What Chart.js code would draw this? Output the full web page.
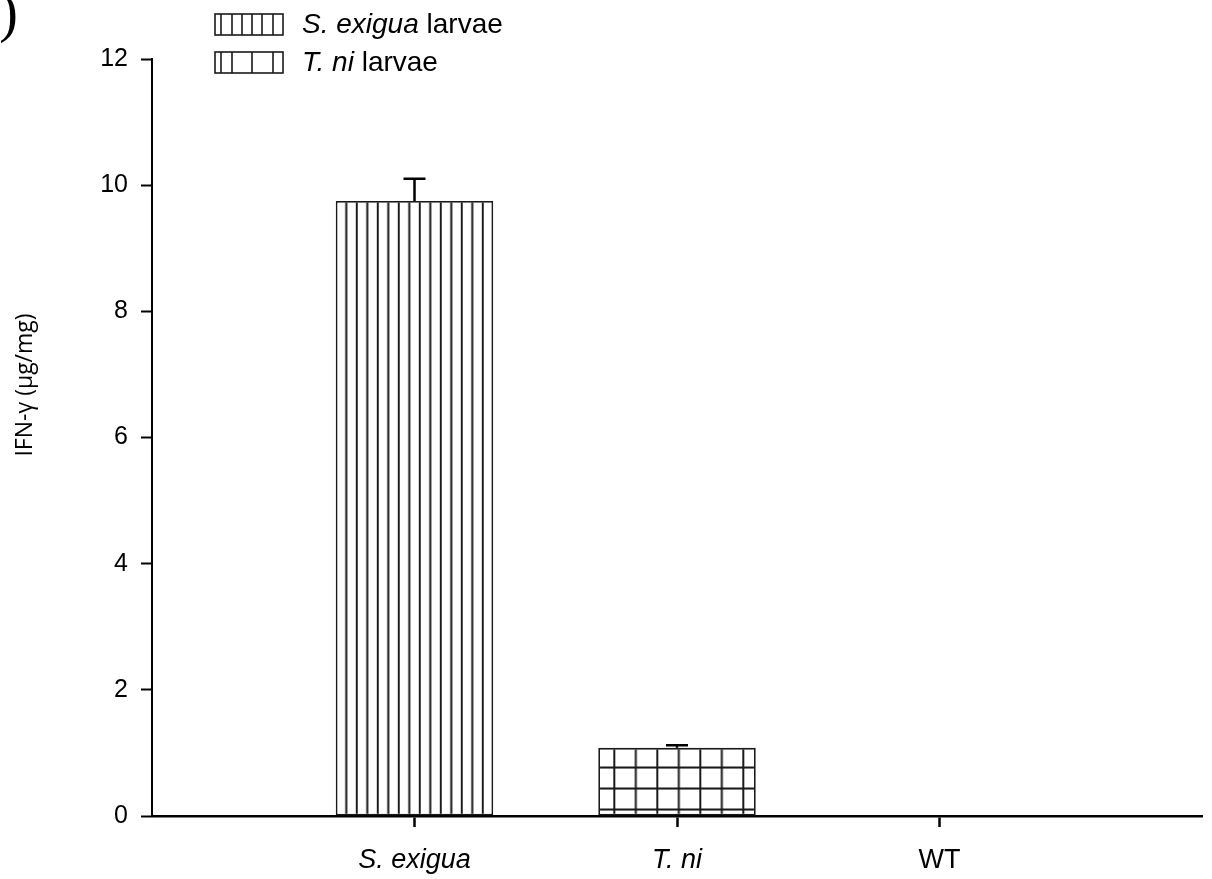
<!DOCTYPE html>
<html>
<head>
<meta charset="utf-8">
<script src="https://cdn.jsdelivr.net/npm/chart.js@4.4.1/dist/chart.umd.min.js"></script>
<style>
html,body{margin:0;padding:0;background:#fff;}
#wrap{position:relative;width:1212px;height:879px;}
</style>
</head>
<body>
<div id="wrap"><canvas id="c" width="1212" height="879"></canvas></div>
<script>
// ---- data ----
const categories = ['', 'S. exigua', 'T. ni', 'WT', ''];
const italicCategories = ['S. exigua', 'T. ni'];
const seriesLabels = ['S. exigua larvae', 'T. ni larvae'];
const seriesItalicParts = ['S. exigua', 'T. ni'];
const sExiguaValues = [null, 9.75, null, null, null];
const tNiValues = [null, null, 1.08, null, null];
const sExiguaErrors = [null, 0.35, null, null, null];
const tNiErrors = [null, null, 0.04, null, null];
const yTickValues = [0, 2, 4, 6, 8, 10, 12];
const yTitle = 'IFN-γ (μg/mg)';
const panelMark = ')';

// ---- styles ----
const FONT = "'Liberation Sans', Arial, sans-serif";
const X_TICK_SIZE = 27;
const Y_TICK_SIZE = 25;
const LEGEND_SIZE = 28;
const LINE_COLOR = '#1a1a1a';

function makeVLinePattern(spacing) {
  const w = Math.round(spacing * 2), h = 8;
  const cv = document.createElement('canvas');
  cv.width = w; cv.height = h;
  const g = cv.getContext('2d');
  g.fillStyle = '#fff'; g.fillRect(0, 0, w, h);
  g.fillStyle = LINE_COLOR;
  g.fillRect(0, 0, 2, h);
  g.fillRect(w / 2, 0, 2, h);
  return g.createPattern(cv, 'repeat');
}
function makeGridPattern(sx, sy) {
  const w = Math.round(sx * 2), h = Math.round(sy * 2);
  const cv = document.createElement('canvas');
  cv.width = w; cv.height = h;
  const g = cv.getContext('2d');
  g.fillStyle = '#fff'; g.fillRect(0, 0, w, h);
  g.fillStyle = LINE_COLOR;
  g.fillRect(0, 0, 2, h);
  g.fillRect(w / 2, 0, 2, h);
  g.fillRect(0, 0, w, 2);
  g.fillRect(0, h / 2, w, 2);
  return g.createPattern(cv, 'repeat');
}
const vPattern = makeVLinePattern(10.5);
const gPattern = makeGridPattern(21.5, 21);

const errorsByDataset = [sExiguaErrors, tNiErrors];

const patternAnchor = {
  id: 'patternAnchor',
  beforeDatasetsDraw(chart) {
    const m0 = chart.getDatasetMeta(0).data[1];
    const m1 = chart.getDatasetMeta(1).data[2];
    if (m0) vPattern.setTransform(new DOMMatrix([1,0,0,1, m0.x - m0.width/2 - 1, 0]));
    if (m1) gPattern.setTransform(new DOMMatrix([1,0,0,1, m1.x - m1.width/2 + 15, m1.base - 7]));
  }
};

const errorBars = {
  id: 'errorBars',
  afterDatasetsDraw(chart) {
    const ctx = chart.ctx, ys = chart.scales.y;
    ctx.save();
    ctx.strokeStyle = '#000';
    ctx.lineWidth = 2.5;
    chart.data.datasets.forEach((ds, i) => {
      const errs = errorsByDataset[i];
      chart.getDatasetMeta(i).data.forEach((el, j) => {
        const v = ds.data[j], e = errs[j];
        if (v == null || e == null) return;
        const top = ys.getPixelForValue(v + e);
        ctx.beginPath();
        ctx.moveTo(el.x, el.y); ctx.lineTo(el.x, top);
        ctx.moveTo(el.x - 11, top); ctx.lineTo(el.x + 11, top);
        ctx.stroke();
      });
    });
    ctx.restore();
  }
};

const customText = {
  id: 'customText',
  afterDraw(chart) {
    const ctx = chart.ctx;
    ctx.save();
    // y title
    ctx.fillStyle = '#000';
    ctx.font = "23px 'Open Sans', sans-serif";
    ctx.translate(25, 385);
    ctx.rotate(-Math.PI / 2);
    ctx.textAlign = 'center';
    ctx.textBaseline = 'middle';
    ctx.fillText(yTitle, 0, 0);
    ctx.restore();

    // panel mark
    ctx.save();
    ctx.fillStyle = '#000';
    ctx.font = "56px 'Liberation Serif', serif";
    ctx.textAlign = 'right';
    ctx.textBaseline = 'alphabetic';
    ctx.fillText(panelMark, 18, 31);
    ctx.restore();

    // legend
    const rows = [{y: 14, pat: 'v'}, {y: 52, pat: 'g'}];
    rows.forEach((r, i) => {
      const x0 = 215, w = 68, h = 21, y0 = r.y;
      ctx.save();
      ctx.fillStyle = '#fff';
      ctx.fillRect(x0, y0, w, h);
      ctx.strokeStyle = LINE_COLOR;
      ctx.lineWidth = 1.6;
      ctx.strokeRect(x0, y0, w, h);
      const xs = r.pat === 'v' ? [6, 17, 27, 37, 47, 58] : [6, 17, 37, 58];
      ctx.beginPath();
      xs.forEach(dx => { ctx.moveTo(x0 + dx, y0); ctx.lineTo(x0 + dx, y0 + h); });
      ctx.stroke();
      ctx.restore();

      const label = seriesLabels[i];
      const it = seriesItalicParts[i];
      const rest = label.slice(it.length);
      ctx.save();
      ctx.fillStyle = '#000';
      ctx.textBaseline = 'middle';
      ctx.textAlign = 'left';
      ctx.font = 'italic ' + LEGEND_SIZE + 'px ' + FONT;
      const ty = y0 + h / 2 + 1;
      let tx = 302;
      ctx.fillText(it, tx, ty);
      tx += ctx.measureText(it).width;
      ctx.font = LEGEND_SIZE + 'px ' + FONT;
      ctx.fillText(rest, tx, ty);
      ctx.restore();
    });
  }
};

new Chart(document.getElementById('c'), {
  type: 'bar',
  data: {
    labels: categories,
    datasets: [
      {label: seriesLabels[0], data: sExiguaValues, backgroundColor: vPattern,
       borderColor: LINE_COLOR, borderWidth: 1.8, borderSkipped: false, grouped: false,
       categoryPercentage: 0.6, barPercentage: 1.0},
      {label: seriesLabels[1], data: tNiValues, backgroundColor: gPattern,
       borderColor: LINE_COLOR, borderWidth: 1.8, borderSkipped: false, grouped: false,
       categoryPercentage: 0.6, barPercentage: 1.0}
    ]
  },
  options: {
    responsive: false,
    animation: false,
    devicePixelRatio: 1,
    layout: {padding: {top: 59, right: 10, left: 0, bottom: 0}},
    plugins: {legend: {display: false}, tooltip: {enabled: false}},
    scales: {
      x: {
        offset: false,
        afterFit(s) { s.height = 63; s.paddingLeft = 0; s.paddingRight = 0; },
        grid: {display: true, offset: false, drawOnChartArea: false, drawTicks: true, tickLength: 11, tickWidth: 2.5,
               tickColor: (c) => (categories[c.index] ? '#000' : 'rgba(0,0,0,0)')},
        border: {display: true, color: '#000', width: 2.5},
        ticks: {
          autoSkip: false, maxRotation: 0, padding: 17, color: '#000',
          font: (c) => ({family: FONT, size: X_TICK_SIZE,
                         style: italicCategories.includes(categories[c.index]) ? 'italic' : 'normal'})
        }
      },
      y: {
        min: 0, max: 12,
        afterFit(s) { s.width = 152; },
        afterBuildTicks(s) { s.ticks = yTickValues.map(v => ({value: v})); },
        grid: {display: true, drawOnChartArea: false, drawTicks: true, tickLength: 11, tickWidth: 2, tickColor: '#000'},
        border: {display: true, color: '#000', width: 2},
        ticks: {padding: 13, color: '#000', font: {family: FONT, size: Y_TICK_SIZE}}
      }
    }
  },
  plugins: [patternAnchor, errorBars, customText]
});
</script>
</body>
</html>
